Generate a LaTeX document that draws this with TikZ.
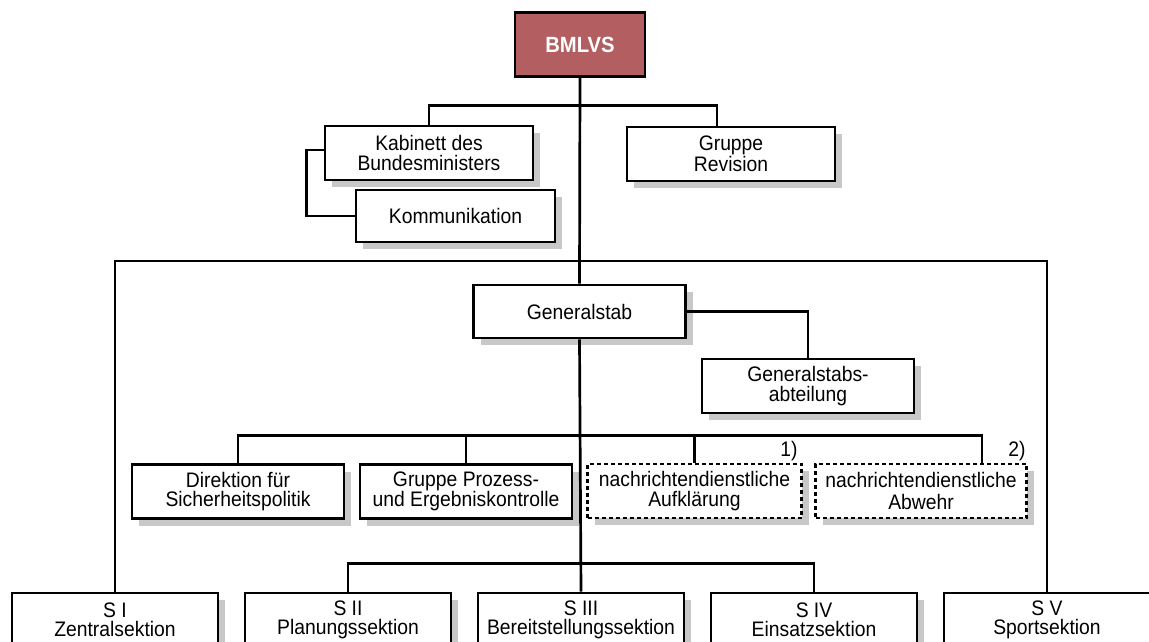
\documentclass[tikz,border=0pt]{standalone}
\usepackage{fontspec}
\setmainfont{Liberation Sans}[FakeStretch=0.92]
\usepackage{tikz}
\usetikzlibrary{calc}
\usetikzlibrary{shadows}
\definecolor{ministry}{RGB}{179,94,96}
\definecolor{shadowgray}{RGB}{200,200,200}

\begin{document}
\begin{tikzpicture}[x=1pt, y=-1pt, line width=2.7pt,
		unit/.style={draw, fill=white, align=center, inner sep=0pt,
			minimum width=212pt, minimum height=54pt,
			font=\fontsize{21}{19.5}\selectfont,
			drop shadow={shadow xshift=7pt, shadow yshift=-7pt, fill=shadowgray, opacity=1}},
		dashedunit/.style={unit, dash pattern=on 4pt off 3pt},
		section/.style={unit, minimum width=206pt},
		topunit/.style={draw, fill=ministry, text=white, inner sep=0pt,
			minimum width=130pt, minimum height=64pt,
			font=\fontsize{22}{24}\selectfont\bfseries},
		note/.style={inner sep=0pt, font=\fontsize{21}{24}\selectfont}]
			\useasboundingbox (0,0) rectangle (1149,642);
			\clip (0,0) rectangle (1149,642);
			\node[topunit] (bmlvs) at (580,44.5) {BMLVS};
			\node[unit, minimum width=208pt] (kabinett) at (429,153) {Kabinett des\\Bundesministers};
			\node[unit, minimum width=208pt] (revision) at (731,154) {Gruppe\\Revision};
			\node[unit, minimum width=199pt, minimum height=52pt] (kommunikation) at (455.5,216) {Kommunikation};
			\node[unit, minimum height=53pt] (generalstab) at (579.5,311.5) {Generalstab};
			\node[unit] (gsabteilung) at (808,386) {Generalstabs-\\abteilung};
			\node[unit] (direktion) at (238,491.5) {Direktion für\\Sicherheitspolitik};
			\node[unit] (prozess) at (466,491.5) {Gruppe Prozess-\\und Ergebniskontrolle};
			\node[dashedunit, minimum width=214pt] (aufklaerung) at (694.5,491) {nachrichtendienstliche\\Aufklärung};
			\node[dashedunit, minimum width=211pt] (abwehr) at (921,491) {nachrichtendienstliche\\[2pt]Abwehr};
			\node[note] (fn1) at (789,451) {1)};
			\node[note] (fn2) at (1017,451) {2)};
			\node[section] (sI) at (115,620) {S I\\Zentralsektion};
			\node[section] (sII) at (348,620) {S II\\Planungssektion};
			\node[section] (sIII) at (581,620) {S III\\Bereitstellungssektion};
			\node[section] (sIV) at (814,620) {S IV\\Einsatzsektion};
			\node[section] (sV) at (1047,620) {S V\\Sportsektion};
			\coordinate (bigbar) at (580,261);
			% Minister und Stab
			\draw (bmlvs.south) -- (generalstab.north);
			\draw (kabinett.north) -- ++(0,-19) -| ([xshift=-14pt]revision.north);
			\draw ([yshift=3pt]kabinett.west) -- ++(-17,0) |- (kommunikation.west);
			\draw (sI.north) |- (bigbar) -| (sV.north);
			% Generalstab
			\draw (generalstab.south) -- (sIII.north);
			\draw (generalstab.east) -| (gsabteilung.north);
			\draw (direktion.north) -- ++(0,-28) -| ([xshift=61pt]abwehr.north);
			\draw (prozess.north) -- ++(0,-28);
			\draw (aufklaerung.north) -- ++(0,-28);
			\draw (sII.north) -- ++(0,-28) -| (sIV.north);
		\end{tikzpicture}
\end{document}
